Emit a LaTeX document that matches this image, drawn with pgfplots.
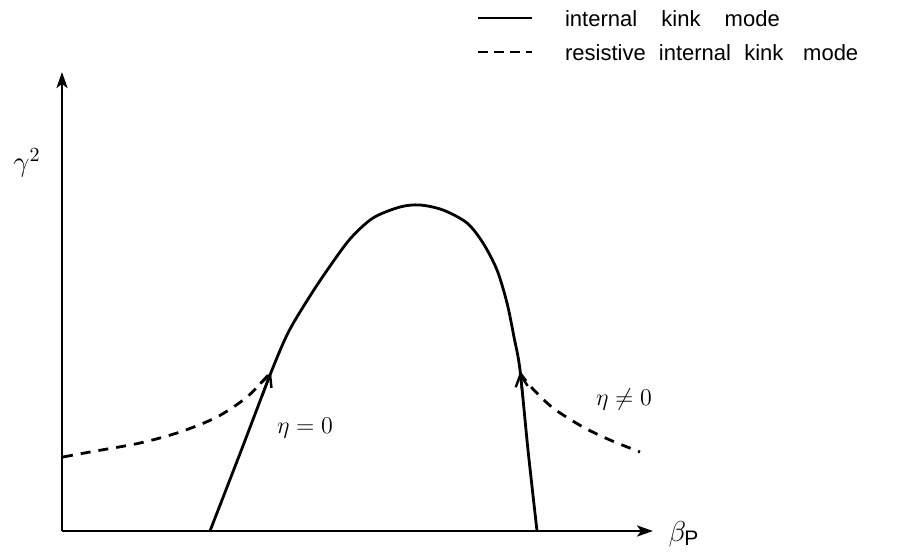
\documentclass[border=0pt]{standalone}
\usepackage{pgfplots}
\pgfplotsset{compat=1.18}
\usepackage{fontspec}
\setmainfont{Liberation Sans}
\usetikzlibrary{arrows.meta}

% pixel-like frame: x = px, y = 558 - py
\begin{document}
\begin{tikzpicture}
\begin{axis}[
  width=460pt, height=279pt, scale only axis,
  xmin=0, xmax=920, ymin=0, ymax=558,
  hide axis, clip=false, no markers,
]
  \pgfplotsset{every axis plot/.append style={line width=1.4pt, black, solid}}
  % keep the full frame
  \addplot[draw=none] coordinates {(0,0) (920,558)};

  % axes
  \addplot[-{Stealth[length=8pt,width=5.5pt,inset=2pt]}] coordinates {(62,27) (62,486)};
  \addplot[-{Stealth[length=8pt,width=5.5pt,inset=2pt]}] coordinates {(62,27) (653,27)};

  % internal kink mode (solid)
  \addplot[black, smooth, tension=0.5] coordinates {
    (210,27) (241,107) (272,188) (289,227) (310,262) (328,289)
    (350,319) (373,340) (400,351) (420,353) (443,348) (467,335)
    (483,315) (497,288) (507,255) (514,221) (520,188) (528,108) (537,27)};
  % arrowheads on the legs
  \addplot[line width=1.2pt, -{Straight Barb[length=6pt,width=6pt]}] coordinates {(262,162) (271,186)};
  \addplot[line width=1.2pt, -{Straight Barb[length=6pt,width=6pt]}] coordinates {(523,160) (520,186)};

  % resistive internal kink mode (dashed)
  \addplot[smooth, dash pattern=on 5pt off 4pt] coordinates {
    (63,101) (90,106) (140,115) (180,126) (217,141) (247,161) (270,185)};
  \addplot[smooth, dash pattern=on 5pt off 4pt] coordinates {
    (520,185) (532,170) (553,150) (583,131) (610,118) (640,106)};

  % legend
  \addplot[line width=1pt] coordinates {(478,540) (532,540)};
  \addplot[line width=1.2pt, dash pattern=on 5pt off 3pt] coordinates {(478,506) (532,506)};
  \node[anchor=west, font=\fontsize{11}{13}\selectfont] at (axis cs:558,539)
    {internal\hspace{1.1em}kink\hspace{1.1em}mode};
  \node[anchor=west, font=\fontsize{11}{13}\selectfont] at (axis cs:558,505)
    {resistive\hspace{0.6em}internal\hspace{0.6em}kink\hspace{0.9em}mode};

  % labels
  \node[font=\fontsize{14}{16}\selectfont] at (axis cs:27,395) {$\gamma^2$};
  \node[font=\fontsize{15}{17}\selectfont] at (axis cs:684,24) {$\beta_{\mathrm{P}}$};
  \node[font=\fontsize{12}{14}\selectfont] at (axis cs:305,130) {$\eta = 0$};
  \node[font=\fontsize{12}{14}\selectfont] at (axis cs:624,159) {$\eta \neq 0$};
\end{axis}
\end{tikzpicture}
\end{document}
